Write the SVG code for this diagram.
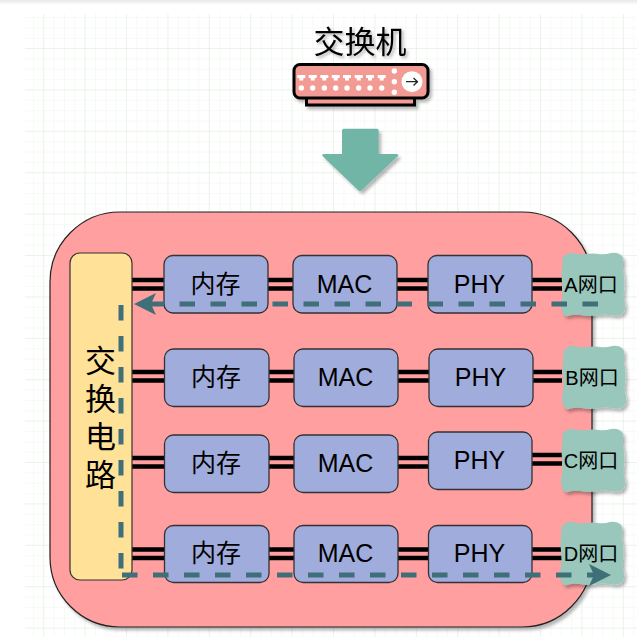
<svg xmlns="http://www.w3.org/2000/svg" width="637" height="637" viewBox="0 0 637 637">
<defs>
<pattern id="minor" x="22.6" y="27.4" width="10.35" height="10.35" patternUnits="userSpaceOnUse"><path d="M10.35 0H0V10.35" fill="none" stroke="#eff5ee" stroke-width="1"/></pattern>
<pattern id="major" x="43.2" y="48" width="41.4" height="41.4" patternUnits="userSpaceOnUse"><path d="M41.4 0H0V41.4" fill="none" stroke="#deeedd" stroke-width="1"/></pattern>
<linearGradient id="top" x1="0" y1="0" x2="0" y2="1"><stop offset="0" stop-color="#e8e8e8"/><stop offset="1" stop-color="#fff"/></linearGradient>
<filter id="sh" x="-10%" y="-10%" width="125%" height="125%"><feDropShadow dx="2.5" dy="3" stdDeviation="1.8" flood-color="#000" flood-opacity="0.28"/></filter>
<marker id="ah" markerUnits="userSpaceOnUse" markerWidth="26" markerHeight="26" refX="22" refY="13" orient="auto"><path d="M0 2 L22 13 L0 24 L5 13Z" fill="#3f6f78"/></marker>
<path id="port" d="M5 2 Q8 -1 12 0 Q18 2 25 1 Q32 0 38 1 Q44 2 50 0 Q56 -1 60 2 Q63 5 62 9 Q61 15 63 22 Q64 30 63 38 Q62 45 64 50 Q65 58 61 61 Q56 64 50 62 Q44 61 36 62 Q28 64 20 62 Q12 61 7 63 Q2 64 1 58 Q-1 52 1 46 Q2 38 1 30 Q0 22 1 15 Q2 8 1 6 Q2 3 5 2Z"/>
</defs>
<style>
text{font-family:"Liberation Sans","Noto Sans CJK SC",sans-serif;fill:#000;text-anchor:middle}
.box{fill:#a0acdc;stroke:#333;stroke-width:1.3}
.lab{font-size:25px}
.pl{font-size:20px}
.pf{fill:#99c7bb;filter:url(#sh)}
.wire{stroke:#000;stroke-width:4.5;fill:none}
.flow{stroke:#3f6f78;stroke-width:5;fill:none;stroke-dasharray:15.5 15.5}
</style>
<rect width="637" height="637" fill="#fff"/>
<rect width="637" height="5" fill="url(#top)"/>
<rect x="25" y="14" width="612" height="623" fill="url(#minor)"/>
<rect x="25" y="14" width="612" height="623" fill="url(#major)"/>

<g id="switch-title"><text x="360" y="53" style="font-size:31px;filter:drop-shadow(2px 2px 1.5px rgba(0,0,0,.3))">交换机</text></g>
<g id="switch-icon" filter="url(#sh)">
<rect x="306.5" y="94" width="108" height="11" fill="#f29a94" stroke="#000" stroke-width="3"/>
<rect x="294" y="64.5" width="134" height="33.5" rx="6" fill="#f29a94" stroke="#000" stroke-width="3"/>
<g fill="#fff">
<path d="M297.300 75h8v3h-2v2.500h-4v-2.500h-2z"/>
<path d="M308.700 75h8v3h-2v2.500h-4v-2.500h-2z"/><path d="M320.300 75h8v3h-2v2.500h-4v-2.500h-2z"/><path d="M331.700 75h8v3h-2v2.500h-4v-2.500h-2z"/><path d="M343 75h8v3h-2v2.500h-4v-2.500h-2z"/><path d="M354.700 75h8v3h-2v2.500h-4v-2.500h-2z"/><path d="M366 75h8v3h-2v2.500h-4v-2.500h-2z"/><path d="M377.700 75h8v3h-2v2.500h-4v-2.500h-2z"/>
<circle cx="301.300" cy="88" r="2.700"/><circle cx="312.700" cy="88" r="2.700"/><circle cx="324.300" cy="88" r="2.700"/><circle cx="335.700" cy="88" r="2.700"/><circle cx="347" cy="88" r="2.700"/><circle cx="358.700" cy="88" r="2.700"/><circle cx="370" cy="88" r="2.700"/><circle cx="381.700" cy="88" r="2.700"/>
<circle cx="394.300" cy="71" r="2.700"/><circle cx="394.300" cy="81.700" r="2.700"/><circle cx="394.300" cy="92.300" r="2.700"/>
<circle cx="412" cy="81.700" r="10.500"/>
</g>
<path d="M406 81.700h11.500M413.500 78l4 3.700l-4 3.700" fill="none" stroke="#222" stroke-width="1.300"/>
</g>
<g id="down-arrow"><path d="M344 128.700H377Q378.700 128.700 378.700 130.500V154H396.500Q399.500 154 397.500 156.500L362 190Q360 192 358 190L323 156.500Q321 154 324 154H342V130.500Q342 128.700 344 128.700Z" fill="#6fb5a6" filter="url(#sh)"/></g>

<g id="chassis"><rect x="50" y="212" width="542" height="415" rx="70" fill="#ff9f9f" stroke="#222" stroke-width="1.200" filter="url(#sh)"/></g>

<g id="connectors">
<path class="wire" d="M132 280H164M132 288.500H164M268 280H293M268 288.500H293M397 280H428M397 288.500H428M532 280H562M532 288.500H562"/>
<path class="wire" d="M132 372H164M132 380.500H164M269 372H294M269 380.500H294M398 372H429M398 380.500H429M533 372H562M533 380.500H562"/>
<path class="wire" d="M132 458H164M132 466.500H164M269 458H294M269 466.500H294M398 458H429M398 466.500H429M532 455H562M532 463.500H562"/>
<path class="wire" d="M132 549.500H165M132 558H165M269 549.500H294M269 558H294M398 549.500H428M398 558H428M532 549.500H562M532 558H562"/>
</g>

<g id="switch-fabric"><rect x="70" y="253" width="62" height="327" rx="10" fill="#ffe197" stroke="#333" stroke-width="1.200"/>
<text x="100.500" y="371.500" style="font-size:31px">交</text><text x="100.500" y="409.500" style="font-size:31px">换</text><text x="100.500" y="447.500" style="font-size:31px">电</text><text x="100.500" y="485.500" style="font-size:31px">路</text></g>

<g id="mem-a"><rect class="box" x="164" y="255.500" width="104" height="57.500" rx="9"/><text class="lab" x="215.500" y="293">内存</text></g>
<g id="mac-a"><rect class="box" x="293" y="255.500" width="104" height="57.500" rx="9"/><text class="lab" x="344.500" y="293">MAC</text></g>
<g id="phy-a"><rect class="box" x="428" y="255.500" width="104" height="57.500" rx="9"/><text class="lab" x="479.500" y="293">PHY</text></g>
<g id="port-a"><use href="#port" class="pf" x="561" y="253"/><text class="pl" x="591" y="292">A网口</text></g>

<g id="mem-b"><rect class="box" x="164.500" y="349" width="104.500" height="57.500" rx="9"/><text class="lab" x="216" y="386">内存</text></g>
<g id="mac-b"><rect class="box" x="294" y="349" width="104" height="57.500" rx="9"/><text class="lab" x="345.500" y="386">MAC</text></g>
<g id="phy-b"><rect class="box" x="429" y="349" width="104" height="57.500" rx="9"/><text class="lab" x="480.500" y="386">PHY</text></g>
<g id="port-b"><use href="#port" class="pf" x="562" y="346"/><text class="pl" x="592" y="385">B网口</text></g>

<g id="mem-c"><rect class="box" x="164.500" y="435" width="104.500" height="57.500" rx="9"/><text class="lab" x="216" y="472">内存</text></g>
<g id="mac-c"><rect class="box" x="294" y="435" width="104" height="57.500" rx="9"/><text class="lab" x="345.500" y="472">MAC</text></g>
<g id="phy-c"><rect class="box" x="428.500" y="432" width="103.500" height="57.500" rx="9"/><text class="lab" x="479.500" y="469">PHY</text></g>
<g id="port-c"><use href="#port" class="pf" x="561" y="429"/><text class="pl" x="591" y="468">C网口</text></g>

<g id="mem-d"><rect class="box" x="164.500" y="525.500" width="104.500" height="57" rx="9"/><text class="lab" x="216" y="562">内存</text></g>
<g id="mac-d"><rect class="box" x="294" y="525.500" width="104" height="57" rx="9"/><text class="lab" x="345.500" y="562">MAC</text></g>
<g id="phy-d"><rect class="box" x="428.500" y="525.500" width="103.500" height="57" rx="9"/><text class="lab" x="479.500" y="562">PHY</text></g>
<g id="port-d"><use href="#port" class="pf" x="560" y="522"/><text class="pl" x="591" y="561">D网口</text></g>

<g id="flows">
<path class="flow" d="M598 304H134" marker-end="url(#ah)"/>
<path class="flow" d="M121 305V575"/>
<path class="flow" d="M122 575H611" marker-end="url(#ah)"/>
</g>
</svg>
